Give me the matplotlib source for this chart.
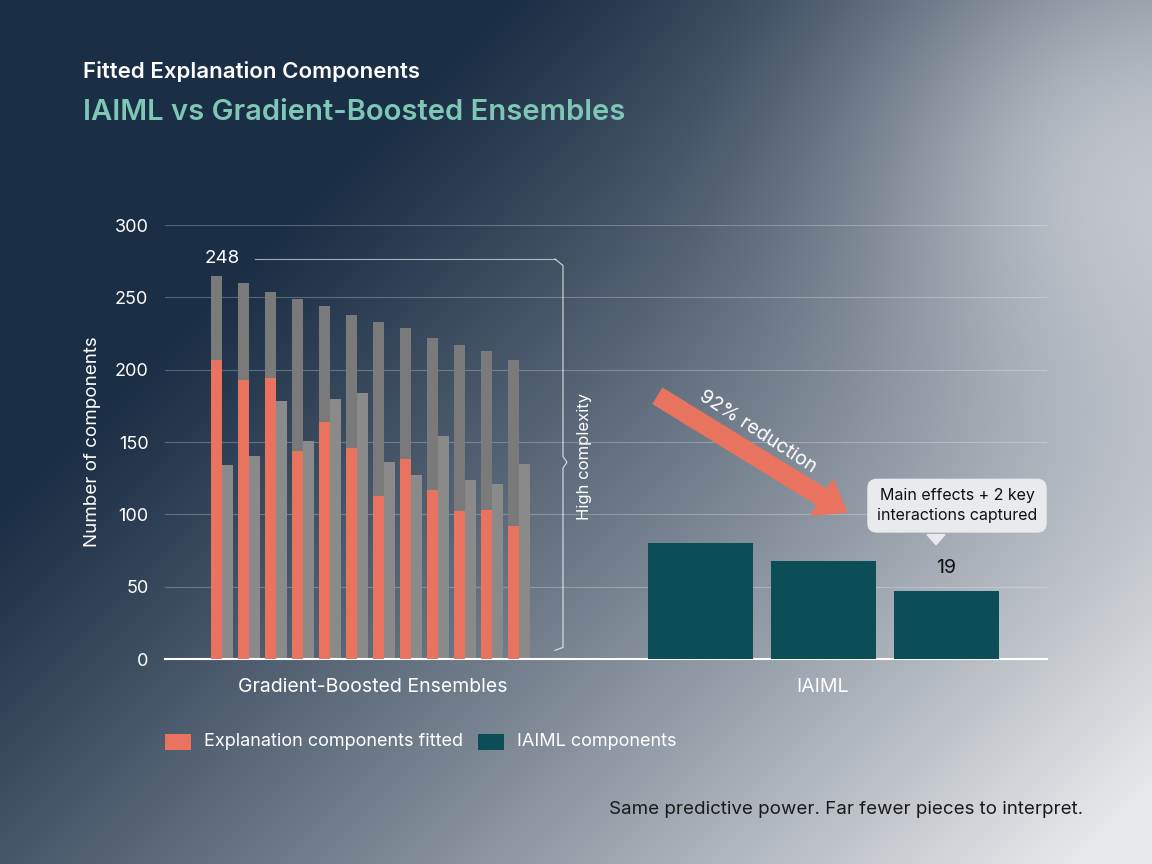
import numpy as np
import matplotlib
matplotlib.use("Agg")
import matplotlib.pyplot as plt
from matplotlib.patches import FancyBboxPatch

plt.rcParams['font.family'] = ['Inter', 'DejaVu Sans']

ens_total = [265, 260, 254, 249, 244, 238, 233, 229, 222, 217, 213, 207]
ens_fitted = [207, 193, 194, 144, 164, 146, 113, 138, 117, 102, 103, 92]
ens_second = [134, 140, 178, 151, 180, 184, 136, 127, 154, 124, 121, 135]
iaiml_vals = [80, 68, 47]
yticks = [0, 50, 100, 150, 200, 250, 300]

W, H = 1152, 864
fig = plt.figure(figsize=(W/100, H/100), dpi=100)

bg = fig.add_axes([0, 0, 1, 1]); bg.axis('off')
yy, xx = np.mgrid[0:1:300j, 0:1:400j]
t = np.clip(0.8*xx + 0.6*yy - 0.35, 0, 1) ** 1.1
t = np.clip(t + 0.3*np.exp(-((xx-0.95)**2/0.05 + (yy-0.15)**2/0.08)), 0, 1)
c0 = np.array([0x1a, 0x2e, 0x45]) / 255
c1 = np.array([0xe8, 0xe9, 0xeb]) / 255
img = c0[None, None, :]*(1-t[..., None]) + c1[None, None, :]*t[..., None]
bg.imshow(img, extent=[0, 1, 0, 1], aspect='auto', origin='upper')
bg.set_xlim(0, 1); bg.set_ylim(0, 1)

ax = fig.add_axes([165/W, 1-659/H, (1047-165)/W, (659-225)/H])
ax.patch.set_alpha(0)
ax.set_xlim(0, 882)
ax.set_ylim(0, 300)
ax.set_yticks(yticks)
ax.set_yticklabels([str(v) for v in yticks], color='white', fontsize=13)
ax.tick_params(axis='y', length=0, pad=12)
ax.set_xticks([])
for s in ['top', 'right', 'left']:
    ax.spines[s].set_visible(False)
ax.spines['bottom'].set_color('white')
ax.spines['bottom'].set_linewidth(1.5)
ax.grid(axis='y', color='white', alpha=0.25, lw=0.8)
ax.set_axisbelow(True)
ax.set_ylabel('Number of components', color='white', fontsize=13.5, labelpad=10)

gx = 46 + 27*np.arange(len(ens_total))
bw = 11
ax.bar(gx + bw/2, ens_total, width=bw, color='#7a7a7a', zorder=2)
ax.bar(gx + bw/2, ens_fitted, width=bw, color='#e8735e', zorder=3)
ax.bar(gx + 1.5*bw, ens_second, width=bw, color='#8a8a8a', zorder=2)

ix = np.array([535, 658, 781])
ax.bar(ix, iaiml_vals, width=105, color='#0c4e57', zorder=3)
ax.text(ix[2], iaiml_vals[2] + 10, '19', ha='center', va='bottom', fontsize=14, color='#111')

ax.text(40, 276.5, '248', color='white', fontsize=13.5, va='center', ha='left')
ax.plot([90, 390], [276.5, 276.5], color='white', lw=0.8, alpha=0.6)
bx = 398
ax.plot([390, bx, bx, bx+4, bx, bx, 390], [276.5, 272, 140, 136, 132, 8, 6],
        color='white', lw=0.9, alpha=0.7)
ax.text(420, 140, 'High complexity', rotation=90, color='white', fontsize=12,
        ha='center', va='center')

ax.annotate('', xy=(685, 100), xytext=(490, 183),
            arrowprops=dict(arrowstyle='simple,head_width=3.2,head_length=2.2,tail_width=1.4',
                            color='#e8735e', lw=0), zorder=4)
ax.text(593, 157, '92% reduction', rotation=-33, color='white', fontsize=14,
        ha='center', va='center')

ax.text(792, 106, 'Main effects + 2 key\ninteractions captured', ha='center', va='center',
        fontsize=11.5, color='#111', linespacing=1.4,
        bbox=dict(boxstyle='round,pad=0.6', fc='#e9eaec', ec='none'))
ax.fill([762, 771, 780], [86, 79, 86], color='#e9eaec')

fig.text(373/W, 1-687/H, 'Gradient-Boosted Ensembles', color='white', fontsize=14, ha='center', va='center')
fig.text(823/W, 1-687/H, 'IAIML', color='white', fontsize=14, ha='center', va='center')

fig.text(83/W, 1-72/H, 'Fitted Explanation Components', color='white', fontsize=16,
         fontweight='semibold', va='center')
fig.text(83/W, 1-112/H, 'IAIML vs Gradient-Boosted Ensembles', color='#7fc7b5', fontsize=21,
         fontweight='semibold', va='center')

fig.patches.append(FancyBboxPatch((165/W, 1-750/H), 26/W, 16/H, boxstyle='square,pad=0',
                                  transform=fig.transFigure, fc='#e8735e', ec='none'))
fig.text(204/W, 1-742/H, 'Explanation components fitted', color='white', fontsize=13, va='center')
fig.patches.append(FancyBboxPatch((478/W, 1-750/H), 26/W, 16/H, boxstyle='square,pad=0',
                                  transform=fig.transFigure, fc='#0c4e57', ec='none'))
fig.text(517/W, 1-742/H, 'IAIML components', color='white', fontsize=13, va='center')

fig.text(1083/W, 1-810/H, 'Same predictive power. Far fewer pieces to interpret.',
         color='#1a1a1a', fontsize=13.5, ha='right', va='center')

fig.savefig('out.png', dpi=100)
